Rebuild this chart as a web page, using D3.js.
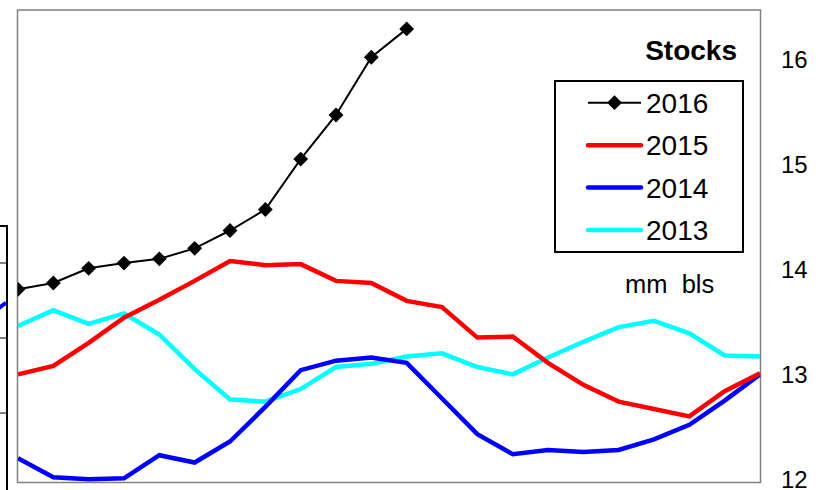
<!DOCTYPE html>
<html>
<head>
<meta charset="utf-8">
<script src="https://cdn.jsdelivr.net/npm/d3@7"></script>
<style>
  html, body { margin: 0; padding: 0; background: #fff; }
  svg { display: block; }
  text { font-family: Arial, "Liberation Sans", sans-serif; }
</style>
</head>
<body>
<svg id="chart" width="824" height="490"></svg>
<script>
// ---- data ----
const weeks = d3.range(22);
const years = ["2016", "2015", "2014", "2013"];
const s2016 = [13.84, 13.90, 14.04, 14.09, 14.13, 14.23, 14.40, 14.60, 15.08, 15.50, 16.05, 16.32];
const s2015 = [13.03, 13.11, 13.33, 13.57, 13.74, 13.92, 14.11, 14.07, 14.08, 13.92, 13.90, 13.73,
               13.67, 13.38, 13.39, 13.14, 12.93, 12.77, 12.70, 12.63, 12.87, 13.04];
const s2014 = [12.23, 12.05, 12.03, 12.04, 12.26, 12.19, 12.39, 12.72, 13.07, 13.16, 13.19, 13.14,
               12.80, 12.46, 12.27, 12.31, 12.29, 12.31, 12.41, 12.55, 12.78, 13.03];
const s2013 = [13.49, 13.64, 13.51, 13.61, 13.41, 13.08, 12.79, 12.77, 12.89, 13.10, 13.13, 13.20,
               13.23, 13.10, 13.03, 13.19, 13.34, 13.48, 13.54, 13.42, 13.21, 13.20];
const yTicks = [12, 13, 14, 15, 16];
const title = "Stocks";
const unitLabel = "mm  bls";
// neighbouring chart fragment tick values
const fragTicks = [1, 2, 3];

const seriesList = [
  { name: "2016", values: s2016, color: "#000000", width: 2, marker: true },
  { name: "2015", values: s2015, color: "#FF0000", width: 4.5, marker: false },
  { name: "2014", values: s2014, color: "#0000FF", width: 4.5, marker: false },
  { name: "2013", values: s2013, color: "#00FFFF", width: 4.5, marker: false }
];

// ---- layout ----
const svg = d3.select("#chart");
const plot = { left: 17.5, top: 10, right: 760.5, bottom: 482.5 };

const x = d3.scaleLinear().domain([0, 21]).range([18, 760]);
const y = d3.scaleLinear().domain([12, 16.5]).range([plot.bottom, plot.top]);

// fragment of neighbouring chart at left edge
const fy = d3.scaleLinear().domain([0, 4]).range([488, 188]);
const frag = svg.append("g");
frag.append("rect").attr("x", -20).attr("y", 226).attr("width", 27).attr("height", 300)
  .attr("fill", "#fff").attr("stroke", "#000").attr("stroke-width", 2);
frag.selectAll("line.ft").data(fragTicks).join("line")
  .attr("x1", 0).attr("x2", 6)
  .attr("y1", d => fy(d)).attr("y2", d => fy(d))
  .attr("stroke", "#808080").attr("stroke-width", 2);
frag.append("line").attr("x1", -1).attr("x2", 6).attr("y1", fy(2.4)).attr("y2", fy(2.47))
  .attr("stroke", "#0000FF").attr("stroke-width", 4);

// clip
svg.append("clipPath").attr("id", "clip").append("rect")
  .attr("x", plot.left).attr("y", plot.top)
  .attr("width", plot.right - plot.left).attr("height", plot.bottom - plot.top);

// plot area frame
svg.append("rect")
  .attr("x", plot.left).attr("y", plot.top)
  .attr("width", plot.right - plot.left).attr("height", plot.bottom - plot.top)
  .attr("fill", "#fff").attr("stroke", "#808080").attr("stroke-width", 1.5);

const g = svg.append("g").attr("clip-path", "url(#clip)");
const line = d3.line().x((d, i) => x(weeks[i])).y(d => y(d));

// draw from back to front: 2013, 2014, 2015, 2016
seriesList.slice().reverse().forEach(s => {
  g.append("path").datum(s.values)
    .attr("d", line)
    .attr("fill", "none")
    .attr("stroke", s.color)
    .attr("stroke-width", s.width)
    .attr("stroke-linejoin", "miter");
  if (s.marker) {
    g.selectAll("path.mk").data(s.values).join("path")
      .attr("class", "mk")
      .attr("d", d3.symbol(d3.symbolSquare, 110))
      .attr("transform", (d, i) => `translate(${x(weeks[i])},${y(d)}) rotate(45)`)
      .attr("fill", "#000");
  }
});

// right axis (labels only)
const axis = d3.axisRight(y).tickValues(yTicks).tickSize(0).tickPadding(0).tickFormat(d3.format("d"));
const ax = svg.append("g").attr("transform", "translate(781,-2.5)").call(axis);
ax.select(".domain").remove();
ax.selectAll("text").attr("font-size", 24).attr("fill", "#000")
  .style("font-family", "Arial, 'Liberation Sans', sans-serif");

// title
svg.append("text").attr("x", 737).attr("y", 59.5).attr("text-anchor", "end")
  .attr("font-size", 28).attr("font-weight", "bold").text(title);

// legend
const legY = d3.scalePoint().domain(years).range([102.7, 230]);
const leg = svg.append("g");
leg.append("rect").attr("x", 555).attr("y", 81).attr("width", 188).attr("height", 171)
  .attr("fill", "#fff").attr("stroke", "#000").attr("stroke-width", 2);
seriesList.forEach(s => {
  const yy = legY(s.name);
  leg.append("line").attr("x1", 588).attr("x2", 641).attr("y1", yy).attr("y2", yy)
    .attr("stroke", s.color).attr("stroke-width", s.width)
    .attr("stroke-linecap", s.marker ? "butt" : "round");
  if (s.marker) {
    leg.append("path").attr("d", d3.symbol(d3.symbolSquare, 110))
      .attr("transform", `translate(614.5,${yy}) rotate(45)`).attr("fill", "#000");
  }
  leg.append("text").attr("x", 646).attr("y", yy).attr("dy", "0.36em")
    .attr("font-size", 28).text(s.name);
});

// unit label
svg.append("text").attr("x", 625).attr("y", 293).attr("font-size", 25.5)
  .style("white-space", "pre").attr("xml:space", "preserve").text(unitLabel);
</script>
</body>
</html>
